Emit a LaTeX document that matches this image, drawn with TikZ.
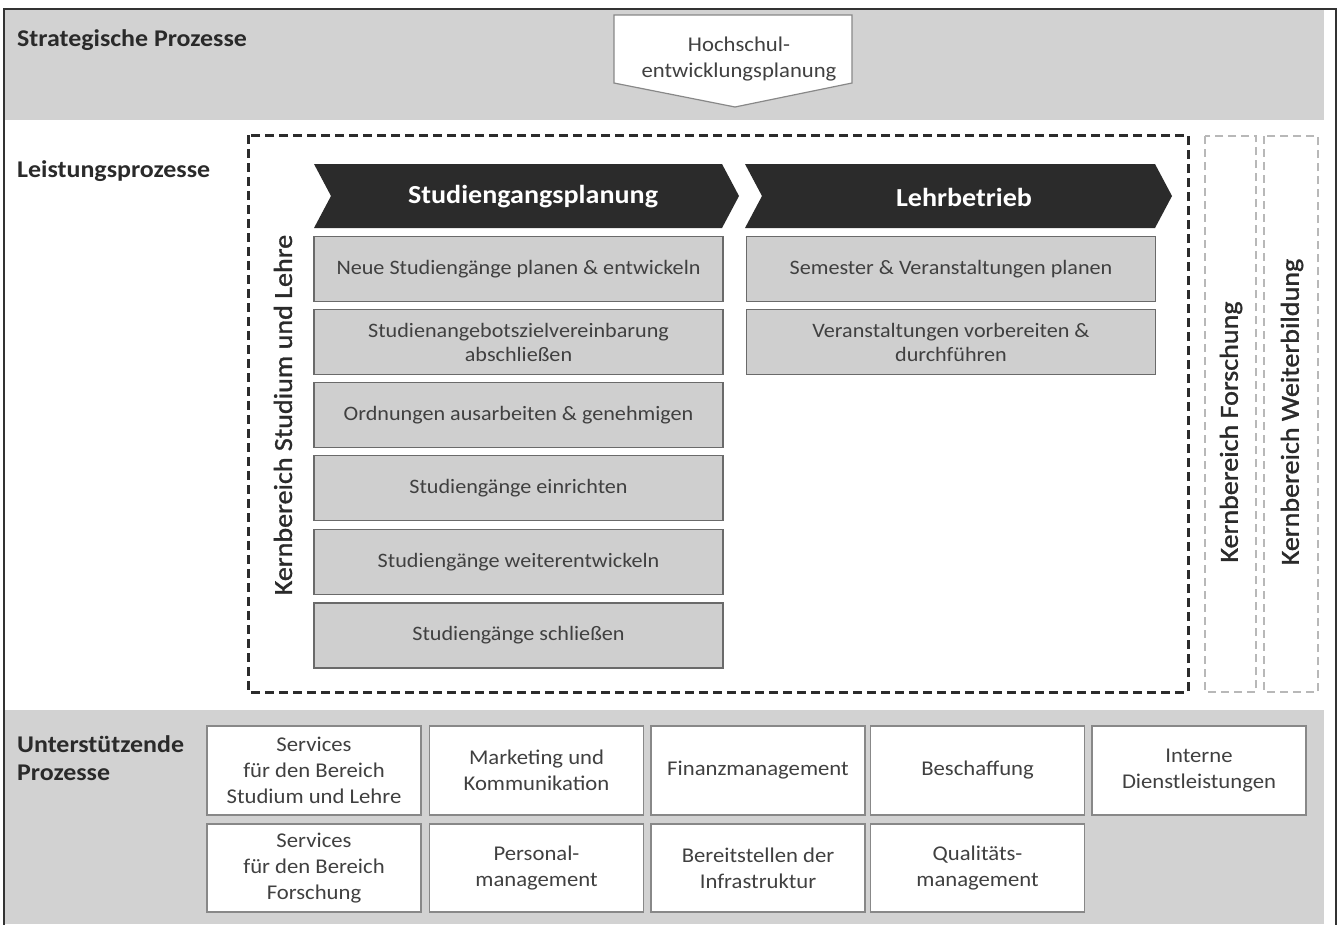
\documentclass[tikz,border=0pt]{standalone}
\usepackage{fontspec}
\setmainfont{Carlito}[FakeStretch=1.08]
\newfontfamily\vfont{Carlito}[FakeStretch=1.08, FakeBold=1.2]
\definecolor{band}{HTML}{D2D2D2}
\definecolor{pbox}{HTML}{CFCFCF}
\definecolor{pedge}{HTML}{6A6A6A}
\definecolor{chev}{HTML}{2B2B2B}
\definecolor{txt}{HTML}{404040}
\definecolor{head}{HTML}{2A2A2A}
\definecolor{ldash}{HTML}{B8B8B8}
\tikzset{
  heading/.style={anchor=base west, inner sep=0pt, font=\fontsize{24}{28}\selectfont\bfseries, text=head, align=left},
  procbox/.style={draw=pedge, line width=1.2pt, fill=pbox, minimum width=409pt, minimum height=65pt, inner sep=0pt, text=txt, align=center, font=\fontsize{20.5}{24}\selectfont},
  supbox/.style={draw=pedge!80, line width=1.2pt, fill=white, minimum width=214pt, inner sep=0pt, text=txt, align=center, font=\fontsize{21}{26}\selectfont},
  chevtext/.style={text=white, font=\fontsize{26}{30}\selectfont\bfseries, inner sep=0pt},
  vtext/.style={rotate=90, text=head, font=\vfont\fontsize{26}{30}\selectfont, inner sep=0pt},
  maindash/.style={draw=chev, line width=3pt, dash pattern=on 9pt off 5pt},
  lightdash/.style={draw=ldash, line width=1.6pt, dash pattern=on 8pt off 5pt}
}
\begin{document}
\begin{tikzpicture}[x=1pt, y=-1pt]
\useasboundingbox (0,0) rectangle (1341,924);
\fill[white] (0,0) rectangle (1341,924);
% bands
\fill[band] (4,10) rectangle (1324,120);
\fill[band] (4,710) rectangle (1324,924);
\draw[line width=1.2pt, black!80] (4,940) -- (4,9) -- (1336,9) -- (1336,940);
% headings
\node[heading] (strat) at (17,46) {Strategische Prozesse};
\node[heading] (leist) at (17,177) {Leistungsprozesse};
\node[heading] (unter) at (17,752) {Unterstützende};
\node[heading] (unter2) at (17,780) {Prozesse};
% Hochschulentwicklungsplanung arrow
\draw[draw=pedge!80, line width=1.2pt, fill=white] (614,15) -- (852,15) -- (852,83) -- (735,107) -- (614,83) -- cycle;
\node[text=txt, align=center, font=\fontsize{21}{26}\selectfont, inner sep=0pt] (hep) at (739,59) {Hochschul-\\entwicklungsplanung};
% dashed regions
\draw[maindash] (248,135) rectangle (1188,692);
\draw[lightdash] (1205,136) rectangle (1256,692);
\draw[lightdash] (1264,136) rectangle (1318,692);
\node[vtext] (kbsl) at (283,415) {Kernbereich Studium und Lehre};
\node[vtext] (kbf) at (1231,432) {Kernbereich Forschung};
\node[vtext] (kbw) at (1292,412) {Kernbereich Weiterbildung};
% chevrons
\fill[chev] (314,164) -- (722,164) -- (739,196) -- (722,228) -- (314,228) -- (331,196) -- cycle;
\fill[chev] (745,164) -- (1155,164) -- (1172,196) -- (1155,228) -- (745,228) -- (762,196) -- cycle;
\node[chevtext] (sgp) at (533,197) {Studiengangsplanung};
\node[chevtext] (lb) at (964,197) {Lehrbetrieb};
% process boxes
\node[procbox] (p1) at (518.5,269) {Neue Studiengänge planen \& entwickeln};
\node[procbox] (p2) at (518.5,342) {Studienangebotszielvereinbarung\\abschließen};
\node[procbox] (p3) at (518.5,415) {Ordnungen ausarbeiten \& genehmigen};
\node[procbox] (p4) at (518.5,488) {Studiengänge einrichten};
\node[procbox] (p5) at (518.5,562) {Studiengänge weiterentwickeln};
\node[procbox] (p6) at (518.5,635.5) {Studiengänge schließen};
\node[procbox] (q1) at (951,269) {Semester \& Veranstaltungen planen};
\node[procbox] (q2) at (951,342) {Veranstaltungen vorbereiten \&\\durchführen};
% support boxes
\node[supbox, minimum height=89pt] (s1) at (314,770.5) {Services\\für den Bereich\\Studium und Lehre};
\node[supbox, minimum height=89pt] (s2) at (536.5,770.5) {Marketing und\\Kommunikation};
\node[supbox, minimum height=89pt] (s3) at (758,770.5) {Finanzmanagement};
\node[supbox, minimum height=89pt] (s4) at (977.5,770.5) {Beschaffung};
\node[supbox, minimum height=89pt] (s5) at (1199,770.5) {Interne\\Dienstleistungen};
\node[supbox, minimum height=88pt] (t1) at (314,868) {Services\\für den Bereich\\Forschung};
\node[supbox, minimum height=88pt] (t2) at (536.5,868) {Personal-\\management};
\node[supbox, minimum height=88pt] (t3) at (758,868) {Bereitstellen der\\Infrastruktur};
\node[supbox, minimum height=88pt] (t4) at (977.5,868) {Qualitäts-\\management};
\end{tikzpicture}
\end{document}
